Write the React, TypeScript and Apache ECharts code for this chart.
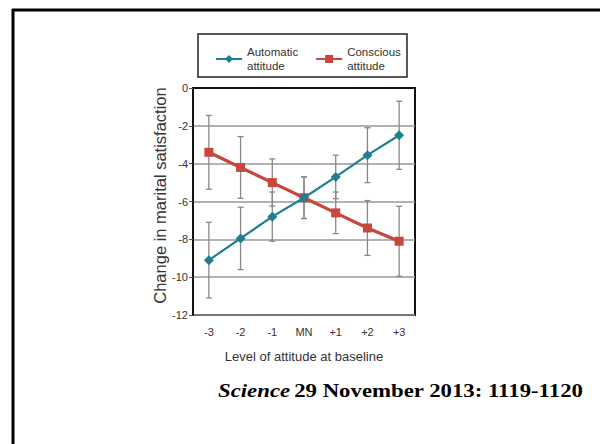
import React, { useEffect, useRef } from "react";
import * as echarts from "echarts";

const categories = ["-3", "-2", "-1", "MN", "+1", "+2", "+3"];
const automatic = [-9.1, -7.95, -6.8, -5.8, -4.7, -3.55, -2.5];
const automaticErr = [2.0, 1.65, 1.3, 1.1, 1.15, 1.45, 1.8];
const conscious = [-3.4, -4.2, -5.0, -5.8, -6.6, -7.4, -8.1];
const consciousErr = [1.95, 1.63, 1.25, 1.1, 1.1, 1.45, 1.85];
const yTicks = { min: -12, max: 0, interval: 2 };

const FONT = '"Liberation Sans Narrow", "Arial Narrow", "Liberation Sans", sans-serif';
const SERIF = '"Liberation Serif", "Times New Roman", serif';
const TEAL = "#1f7f8f";
const RED = "#c9463d";

export default function App() {
  const ref = useRef<HTMLDivElement>(null);
  useEffect(() => {
    if (!ref.current) return;
    const chart = echarts.init(ref.current, undefined, { renderer: "svg" });
    const errData: number[][] = [];
    automatic.forEach((v, i) => errData.push([i, v - automaticErr[i], v + automaticErr[i]]));
    conscious.forEach((v, i) => errData.push([i, v - consciousErr[i], v + consciousErr[i]]));

    chart.setOption({
      animation: false,
      backgroundColor: "#ffffff",
      textStyle: { fontFamily: FONT },
      grid: {
        left: 193,
        top: 88,
        width: 222,
        height: 227,
        show: true,
        borderColor: "#111",
        borderWidth: 2,
      },
      legend: {
        left: 210,
        top: 40,
        itemWidth: 26,
        itemHeight: 10,
        itemGap: 17,
        data: ["Automatic\nattitude", "Conscious\nattitude"],
        textStyle: { fontFamily: FONT, fontSize: 11.5, color: "#333", lineHeight: 14 },
        selectedMode: false,
      },
      xAxis: {
        type: "category",
        data: categories,
        boundaryGap: true,
        axisLine: { show: true, lineStyle: { color: "#111", width: 2 } },
        axisTick: { show: false },
        axisLabel: { fontFamily: FONT, fontSize: 11, color: "#333", margin: 11 },
        name: "Level of attitude at baseline",
        nameLocation: "middle",
        nameGap: 35,
        nameTextStyle: { fontFamily: FONT, fontSize: 13, color: "#333" },
      },
      yAxis: {
        type: "value",
        min: yTicks.min,
        max: yTicks.max,
        interval: yTicks.interval,
        axisLine: { show: true, lineStyle: { color: "#111", width: 2 } },
        axisTick: { show: true, length: 4, lineStyle: { color: "#555" } },
        axisLabel: { fontFamily: FONT, fontSize: 11, color: "#333", margin: 5 },
        splitLine: { show: true, lineStyle: { color: "#999", width: 1.5 } },
        name: "Change in marital satisfaction",
        nameLocation: "middle",
        nameGap: 25,
        nameTextStyle: { fontFamily: FONT, fontSize: 16.5, color: "#333", padding: [0, 0, 0, 12] },
      },
      graphic: [
        {
          type: "rect",
          shape: { x: 198, y: 34, width: 209, height: 43 },
          style: { fill: "none", stroke: "#222", lineWidth: 1.5 },
          z: 10,
        },
        {
          type: "line",
          shape: { x1: 13, y1: 9, x2: 13, y2: 444 },
          style: { stroke: "#000", lineWidth: 3 },
        },
        {
          type: "line",
          shape: { x1: 12, y1: 10, x2: 600, y2: 10 },
          style: { stroke: "#000", lineWidth: 3 },
        },
        {
          type: "text",
          x: 218,
          y: 391,
          scaleX: 1.2,
          style: {
            text: "{i|Science} {b|29 November 2013: 1119-1120}",
            verticalAlign: "middle",
            rich: {
              i: { fontFamily: SERIF, fontStyle: "italic", fontWeight: "bold", fontSize: 19, fill: "#000" },
              b: { fontFamily: SERIF, fontWeight: "bold", fontSize: 19, fill: "#000" },
            },
          },
        },
      ],
      series: [
        {
          name: "errorbars",
          type: "custom",
          z: 1,
          data: errData,
          renderItem: (params: any, api: any) => {
            const x = api.value(0);
            const lo = api.coord([x, api.value(1)]);
            const hi = api.coord([x, api.value(2)]);
            const cap = 3;
            const style = { stroke: "#888", lineWidth: 1.3 };
            return {
              type: "group",
              children: [
                { type: "line", shape: { x1: hi[0], y1: hi[1], x2: lo[0], y2: lo[1] }, style },
                { type: "line", shape: { x1: hi[0] - cap, y1: hi[1], x2: hi[0] + cap, y2: hi[1] }, style },
                { type: "line", shape: { x1: lo[0] - cap, y1: lo[1], x2: lo[0] + cap, y2: lo[1] }, style },
              ],
            };
          },
        },
        {
          name: "Automatic\nattitude",
          type: "line",
          z: 3,
          data: automatic,
          symbol: "diamond",
          symbolSize: 10,
          itemStyle: { color: TEAL },
          lineStyle: { color: TEAL, width: 2.2 },
        },
        {
          name: "Conscious\nattitude",
          type: "line",
          z: 2,
          data: conscious,
          symbol: "rect",
          symbolSize: 9,
          itemStyle: { color: RED },
          lineStyle: { color: RED, width: 3.2 },
        },
      ],
    });
    return () => chart.dispose();
  }, []);
  return (
    <div
      ref={ref}
      style={{ position: "fixed", left: 0, top: 0, width: 600, height: 444, background: "#fff" }}
    />
  );
}
